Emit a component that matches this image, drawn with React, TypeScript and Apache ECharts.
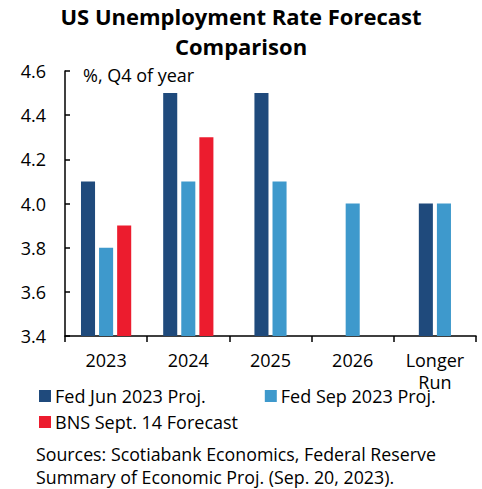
import React, { useEffect, useRef } from "react";
import * as echarts from "echarts";

const categories = ["2023", "2024", "2025", "2026", "Longer\nRun"];
const seriesNames = ["Fed Jun 2023 Proj.", "Fed Sep 2023 Proj.", "BNS Sept. 14 Forecast"];
const fedJun: (number | null)[] = [4.1, 4.5, 4.5, null, 4.0];
const fedSep: (number | null)[] = [3.8, 4.1, 4.1, 4.0, 4.0];
const bns: (number | null)[] = [3.9, 4.3, null, null, null];
const yTicks = [3.4, 3.6, 3.8, 4.0, 4.2, 4.4, 4.6];

const allSeries = [fedJun, fedSep, bns];
const colors = ["#1F4A7C", "#3E99CC", "#EC1C2E"];
const FONT = "'Open Sans', sans-serif";

export default function App() {
  const ref = useRef<HTMLDivElement>(null);
  useEffect(() => {
    if (!ref.current) return;
    const chart = echarts.init(ref.current, null, { renderer: "svg" });
    const renderItem = (params: any, api: any) => {
      const cat = api.value(0);
      const val = api.value(1);
      const sIdx = params.seriesIndex;
      const slots: number[] = [];
      allSeries.forEach((s, i) => {
        if (s[cat] != null) slots.push(i);
      });
      const pos = slots.indexOf(sIdx);
      const n = slots.length;
      const band = api.size([1, 0])[0];
      const barW = band * 0.171;
      const gap = band * 0.049;
      const total = n * barW + (n - 1) * gap;
      const top = api.coord([cat, val]);
      const base = api.coord([cat, yTicks[0]]);
      const x = top[0] - total / 2 + pos * (barW + gap);
      return {
        type: "rect",
        shape: { x, y: top[1], width: barW, height: base[1] - top[1] },
        style: api.style(),
      };
    };
    const series = allSeries.map((s, i) => ({
      type: "custom",
      name: seriesNames[i],
      renderItem,
      itemStyle: { color: colors[i] },
      encode: { x: 0, y: 1 },
      data: s
        .map((v, c) => (v == null ? null : [c, v]))
        .filter((d) => d != null),
    }));
    const legendText = { fontSize: 18, fontFamily: FONT, color: "#000", padding: [0, 0, 0, -1] };
    chart.setOption({
      animation: false,
      textStyle: { fontFamily: FONT },
      title: {
        text: "US Unemployment Rate Forecast\nComparison",
        left: "center",
        top: 1,
        padding: 0,
        textStyle: {
          fontFamily: FONT,
          fontWeight: "bold",
          fontSize: 22,
          lineHeight: 30,
          color: "#000",
        },
      },
      grid: { left: 65, right: 6, top: 71, bottom: 153, containLabel: false },
      xAxis: {
        type: "category",
        data: categories,
        axisLine: { lineStyle: { color: "#000", width: 1.5 } },
        axisTick: { show: true, length: 6, lineStyle: { color: "#000", width: 1.5 } },
        axisLabel: {
          color: "#000",
          fontSize: 18,
          fontFamily: FONT,
          margin: 13,
          lineHeight: 22,
          interval: 0,
        },
      },
      yAxis: {
        type: "value",
        min: 3.4,
        max: 4.6,
        interval: 0.2,
        splitLine: { show: false },
        axisLine: { show: true, lineStyle: { color: "#000", width: 1.5 } },
        axisTick: { show: true, inside: true, length: 5, lineStyle: { color: "#000", width: 1.5 } },
        axisLabel: {
          color: "#000",
          fontSize: 18,
          fontFamily: FONT,
          margin: 19,
          formatter: (v: number) => v.toFixed(1),
        },
      },
      legend: [
        {
          data: [seriesNames[0], seriesNames[1]],
          left: 39,
          top: 387,
          padding: 0,
          itemWidth: 12,
          itemHeight: 12,
          itemGap: 59,
          icon: "rect",
          textStyle: legendText,
        },
        {
          data: [seriesNames[2]],
          left: 39,
          top: 413,
          padding: 0,
          itemWidth: 12,
          itemHeight: 12,
          icon: "rect",
          textStyle: legendText,
        },
      ],
      graphic: [
        {
          type: "text",
          left: 83,
          top: 66,
          style: { text: "%, Q4 of year", fontSize: 18, fontFamily: FONT, fill: "#000" },
        },
        {
          type: "text",
          left: 36,
          top: 442,
          style: {
            text: "Sources: Scotiabank Economics, Federal Reserve\nSummary of Economic Proj. (Sep. 20, 2023).",
            fontSize: 17.8,
            lineHeight: 23,
            fontFamily: FONT,
            fill: "#000",
          },
        },
      ],
      series,
    });
    return () => chart.dispose();
  }, []);
  return <div ref={ref} style={{ width: 482, height: 489, position: "absolute", left: 0, top: 0 }} />;
}
